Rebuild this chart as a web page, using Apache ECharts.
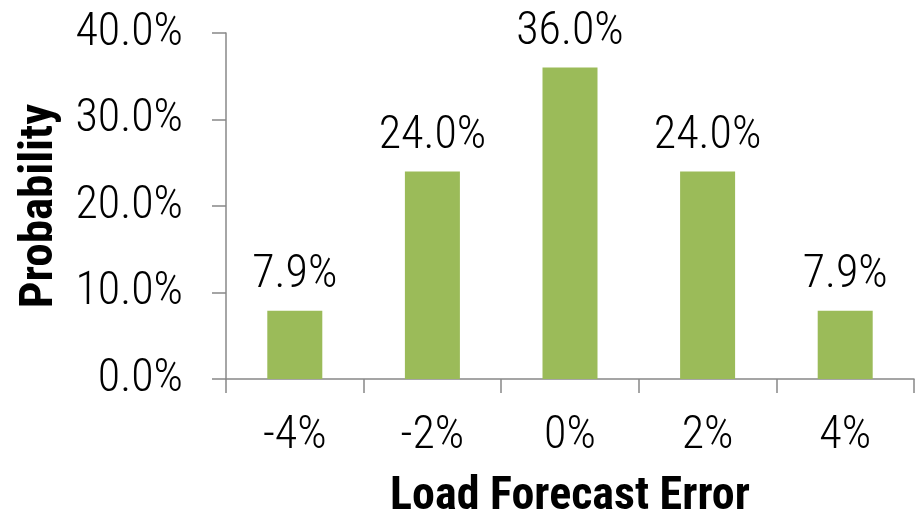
<!DOCTYPE html>
<html>
<head>
<meta charset="utf-8">
<script src="https://cdn.jsdelivr.net/npm/echarts@6/dist/echarts.min.js"></script>
<style>
  html, body { margin: 0; padding: 0; background: #ffffff; }
  #chart { width: 919px; height: 518px; }
</style>
</head>
<body>
<div id="chart"></div>
<script>
// Load forecast error distribution
const categories = ['-4%', '-2%', '0%', '2%', '4%'];
const probabilities = [7.9, 24.0, 36.0, 24.0, 7.9];
const yTicks = { min: 0, max: 40, interval: 10 };

const FONT = '"Roboto Condensed", "Liberation Sans Narrow", sans-serif';
const AXIS_GRAY = '#888888';

const chart = echarts.init(document.getElementById('chart'), null, { renderer: 'canvas' });

chart.setOption({
  animation: false,
  backgroundColor: '#ffffff',
  grid: { left: 226, right: 5, top: 33, bottom: 139, containLabel: false, outerBoundsMode: 'none' },
  xAxis: {
    type: 'category',
    data: categories,
    boundaryGap: true,
    name: 'Load Forecast Error',
    nameLocation: 'middle',
    nameGap: 95,
    nameTextStyle: { fontFamily: FONT, fontSize: 46, fontWeight: 'bold', color: '#000' },
    axisLine: { show: true, lineStyle: { color: AXIS_GRAY, width: 1.5 } },
    axisTick: { show: true, alignWithLabel: false, length: 14, lineStyle: { color: AXIS_GRAY, width: 1.5 } },
    axisLabel: { fontFamily: FONT, fontSize: 46, fontWeight: 300, color: '#000', margin: 34 },
    splitLine: { show: false }
  },
  yAxis: {
    type: 'value',
    min: yTicks.min,
    max: yTicks.max,
    interval: yTicks.interval,
    name: 'Probability',
    nameLocation: 'middle',
    nameGap: 162,
    nameRotate: 90,
    nameTextStyle: { fontFamily: FONT, fontSize: 47, fontWeight: 'bold', color: '#000' },
    axisLine: { show: true, lineStyle: { color: AXIS_GRAY, width: 1.5 } },
    axisTick: { show: true, inside: false, length: 14, lineStyle: { color: AXIS_GRAY, width: 1.5 } },
    axisLabel: {
      fontFamily: FONT, fontSize: 46, fontWeight: 300, color: '#000', margin: 43,
      formatter: v => v.toFixed(1) + '%'
    },
    splitLine: { show: false }
  },
  series: [{
    type: 'bar',
    data: probabilities,
    barWidth: 55,
    itemStyle: { color: '#9BBB59' },
    label: {
      show: true,
      position: 'top',
      distance: 12,
      fontFamily: FONT,
      fontSize: 46,
      fontWeight: 300,
      color: '#000',
      formatter: p => p.value.toFixed(1) + '%'
    }
  }]
});
</script>
</body>
</html>
